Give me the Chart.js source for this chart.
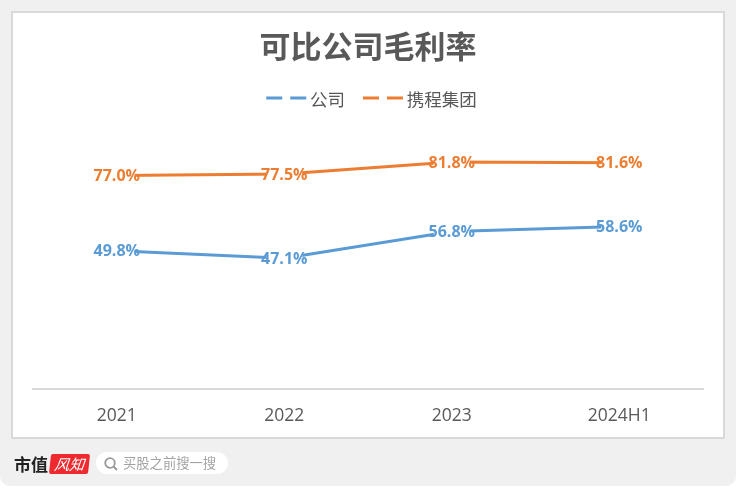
<!DOCTYPE html>
<html lang="zh"><head><meta charset="utf-8">
<style>
html,body{margin:0;padding:0;background:#fff;width:736px;height:488px;overflow:hidden}
#page{position:absolute;left:0;top:0;width:736px;height:486px;background:#f0f0f0;border-radius:0 0 10px 10px}
#card{position:absolute;left:11px;top:11px;width:710px;height:424px;background:#fff;border:2px solid #d9d9d9}
#wrap{position:absolute;left:0;top:0;width:736px;height:488px}
#brand{position:absolute;left:14px;top:454px;font:bold 17px/20px "Noto Sans CJK SC";color:#222}
#badge{position:absolute;left:50px;top:454px;width:39px;height:20px;background:#ee2a2e;color:#fff;font:italic 15px/20px "Noto Sans CJK SC";text-align:center;transform:skewX(-6deg);border-radius:2px}
#search{position:absolute;left:96px;top:452px;width:132px;height:22px;background:#fff;border-radius:11px}
#search svg{position:absolute;left:7px;top:4px}
#search span{position:absolute;left:27px;top:0;font:13.3px/22px "Noto Sans CJK SC";color:#a3a3a3;white-space:nowrap}
</style></head><body>
<div id="page"></div><div id="card"></div>
<div id="wrap"><canvas id="c" width="736" height="488"></canvas></div>
<div id="brand">市值</div><div id="badge">风知</div>
<div id="search"><svg width="16" height="16" viewBox="0 0 16 16"><circle cx="7" cy="7" r="4.8" fill="none" stroke="#9a9a9a" stroke-width="1.8"/><line x1="10.5" y1="10.5" x2="14" y2="14" stroke="#9a9a9a" stroke-width="2"/></svg><span>买股之前搜一搜</span></div>
<script src="https://cdn.jsdelivr.net/npm/chart.js@4"></script>
<script>
const categories=["2021","2022","2023","2024H1"];
const companyValues=[49.8,47.1,56.8,58.6];
const ctripValues=[77.0,77.5,81.8,81.6];
const seriesNames=["公司","携程集团"];
const titleText="可比公司毛利率";
const BLUE="#5b9bd5",ORANGE="#ed7d31",GREY="#595959";
const CJK='"Noto Sans CJK SC","Noto Sans",sans-serif';
const LAT='"Open Sans","Noto Sans CJK SC",sans-serif';
const LEGEND_SHIFT=3.5;

const valueLabels={id:"valueLabels",afterDatasetsDraw(chart){
  const ctx=chart.ctx;ctx.save();
  ctx.font='bold 16px '+LAT;ctx.textAlign="center";ctx.textBaseline="middle";
  chart.data.datasets.forEach((ds,i)=>{
    chart.getDatasetMeta(i).data.forEach((p,j)=>{
      ctx.fillStyle="#fff";ctx.fillRect(p.x-18,p.y-8,36,17);
      ctx.fillStyle=ds.borderColor;
      ctx.fillText(ds.data[j].toFixed(1)+"%",p.x,p.y+1);
    });
  });
  ctx.restore();
}};
const legendDashes={id:"legendDashes",
  beforeDraw(chart){chart.legend.left+=2*LEGEND_SHIFT;},
  afterDraw(chart){
    const ctx=chart.ctx,boxes=chart.legend.legendHitBoxes;ctx.save();
    ctx.lineWidth=3;ctx.setLineDash([16,8,16,100]);
    chart.data.datasets.forEach((ds,i)=>{
      const b=boxes[i],y=b.top+b.height/2-1,x=b.left+LEGEND_SHIFT;
      ctx.strokeStyle=ds.borderColor;ctx.beginPath();ctx.moveTo(x,y);ctx.lineTo(x+40,y);ctx.stroke();
    });
    ctx.restore();
  }
};

new Chart(document.getElementById("c"),{
  type:"line",
  data:{labels:categories,datasets:[
    {label:seriesNames[0],data:companyValues,borderColor:BLUE,backgroundColor:BLUE,borderWidth:3,pointRadius:0,tension:0,borderCapStyle:"round"},
    {label:seriesNames[1],data:ctripValues,borderColor:ORANGE,backgroundColor:ORANGE,borderWidth:3,pointRadius:0,tension:0,borderCapStyle:"round"}
  ]},
  options:{
    responsive:false,animation:false,devicePixelRatio:1,
    layout:{padding:{left:33,right:33,top:28,bottom:52}},
    plugins:{
      tooltip:{enabled:false},
      title:{display:true,text:titleText,color:GREY,font:{family:CJK,size:31,weight:"bold"},padding:{top:0,bottom:7}},
      legend:{display:true,position:"top",
        labels:{boxWidth:35,boxHeight:0,padding:18,color:GREY,font:{family:CJK,size:17.5},
          generateLabels(chart){return chart.data.datasets.map((d,i)=>({
            text:d.label,fillStyle:"transparent",strokeStyle:"transparent",lineWidth:0,datasetIndex:i,fontColor:GREY}));}
        }
      }
    },
    scales:{
      x:{offset:true,grid:{display:false},border:{display:true,color:"#d9d9d9",width:2},
        ticks:{color:GREY,font:{family:LAT,size:17.5},padding:9,maxRotation:0}},
      y:{display:false,min:0,max:97.8}
    }
  },
  plugins:[valueLabels,legendDashes]
});
</script></body></html>
